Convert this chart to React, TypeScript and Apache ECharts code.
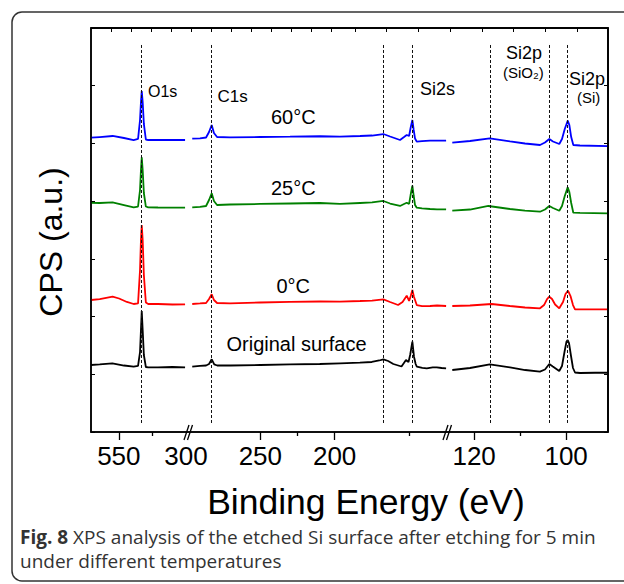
import React, { useEffect, useRef } from "react";
import * as echarts from "echarts";

// ---- axis ranges (eV) of the three broken-axis segments ----
const leftRange = [499.3, 571];
const midRange = [124.4, 300];
const rightRange = [90.9, 125.9];

// ---- tick labels ----
const leftLabels = [550];
const leftMajorTicks = [550];
const leftMinorTicks = [525];
const midLabels = [300, 250, 200];
const midMajorTicks = [250, 200];
const midMinorTicks = [225, 150];
const rightLabels = [120, 100];
const rightMajorTicks = [120, 100];
const rightMinorTicks = [110];

// ---- peak reference lines (eV) ----
const peakLinesLeft = [532.7];
const peakLinesMid = [282.7, 167.2, 147.7];
const peakLinesRight = [116.6, 103.66, 99.66];

// ---- spectra [binding energy eV, CPS a.u. offset] ----
const blackLeft = [[571,1.161],[564.4,1.170],[554.9,1.190],[546.1,1.152],[538.8,1.131],[535.5,1.144],[534.0,1.386],[533.3,1.767],[532.7,2.097],[532.0,1.767],[531.1,1.334],[529.6,1.126],[527.8,1.121],[520.5,1.121],[509.5,1.126],[500,1.121]];
const redLeft = [[571,2.287],[564.4,2.304],[554.7,2.344],[549.8,2.313],[543.9,2.253],[538.8,2.218],[535.5,2.227],[534.0,2.807],[533.3,3.327],[532.7,3.587],[532.0,3.327],[531.1,2.720],[529.6,2.244],[527.8,2.218],[520.5,2.218],[509.5,2.209],[500,2.213]];
const greenLeft = [[571,3.969],[564.4,3.968],[554.7,3.979],[546.1,3.933],[538.8,3.893],[535.5,3.907],[534.0,4.193],[533.3,4.540],[532.7,4.760],[532.0,4.540],[531.1,4.141],[529.6,3.907],[527.8,3.893],[520.5,3.890],[509.5,3.886],[500,3.886]];
const blueLeft = [[571,5.099],[564.4,5.111],[554.7,5.129],[546.1,5.094],[538.8,5.059],[535.5,5.077],[534.0,5.406],[533.3,5.718],[532.7,5.908],[532.0,5.718],[531.1,5.337],[529.6,5.068],[527.8,5.059],[520.5,5.059],[509.5,5.059],[500,5.059]];

const blackMid = [[295.8,1.131],[290.6,1.144],[286.5,1.152],[284.5,1.178],[282.7,1.260],[281.0,1.170],[279,1.152],[270,1.152],[250,1.161],[230,1.170],[210,1.178],[196.3,1.190],[183,1.201],[175,1.213],[170,1.239],[167.2,1.260],[164,1.230],[160.5,1.178],[155,1.135],[152,1.247],[150.3,1.213],[149.2,1.334],[147.7,1.565],[146.6,1.305],[145.5,1.178],[144.7,1.131],[141,1.112],[138,1.104],[134,1.118],[131.3,1.121],[128,1.109],[125,1.104]];
const redMid = [[295.8,2.218],[290.6,2.227],[286.5,2.235],[284.5,2.304],[282.7,2.386],[281.2,2.287],[279.1,2.235],[270.4,2.230],[250.2,2.244],[230,2.253],[209.8,2.261],[196.4,2.258],[182.9,2.270],[174.8,2.278],[167.2,2.299],[162.7,2.253],[157.3,2.200],[154.3,2.253],[151.5,2.362],[149.9,2.270],[148.8,2.356],[147.7,2.460],[146.6,2.339],[144.75,2.200],[141.2,2.180],[135.8,2.183],[131.1,2.192],[125,2.183]];
const greenMid = [[295.8,3.893],[290.6,3.899],[286.5,3.916],[284.5,4.020],[282.7,4.136],[281.2,4.003],[279.1,3.933],[270.4,3.942],[250.2,3.951],[230,3.959],[209.8,3.968],[196.4,3.951],[182.9,3.968],[174.8,3.977],[167.2,4.003],[162.7,3.959],[156,3.916],[153.3,3.951],[151.5,3.973],[149.9,3.951],[148.9,4.106],[147.7,4.268],[146.8,4.089],[145.9,3.933],[144.75,3.886],[141.2,3.873],[135.8,3.864],[131.1,3.859],[125,3.859]];
const blueMid = [[295.8,5.082],[290.6,5.089],[286.5,5.103],[284.5,5.198],[282.7,5.319],[281.2,5.181],[279.1,5.111],[270.4,5.106],[250.2,5.111],[230,5.117],[209.8,5.124],[196.4,5.117],[182.9,5.129],[174.8,5.137],[167.2,5.163],[162.7,5.120],[156,5.059],[153.3,5.111],[151.5,5.146],[149.9,5.129],[148.9,5.267],[147.7,5.406],[146.8,5.233],[145.9,5.085],[144.75,5.030],[141.2,5.039],[135.8,5.047],[131.1,5.047],[125,5.047]];

const blackRight = [[124.75,1.074],[120.9,1.109],[116.6,1.173],[112.2,1.118],[108.9,1.074],[105.7,1.045],[104.6,1.083],[103.66,1.178],[102.9,1.135],[101.5,1.057],[100.9,1.144],[100.36,1.386],[99.92,1.568],[99.66,1.594],[99.38,1.542],[98.94,1.317],[98.51,1.109],[98.07,1.031],[97.0,1.022],[93.7,1.027],[90.9,1.027]];
const redRight = [[124.75,2.183],[120.9,2.192],[116.2,2.218],[112.2,2.183],[108.94,2.157],[105.68,2.143],[104.8,2.200],[104.15,2.304],[103.66,2.344],[103.07,2.304],[102.4,2.209],[101.49,2.143],[100.68,2.253],[100.14,2.391],[99.6,2.448],[99.05,2.356],[98.51,2.200],[98.07,2.126],[97.0,2.123],[90.9,2.126]];
const greenRight = [[124.75,3.834],[120.9,3.855],[116.9,3.916],[112.2,3.864],[108.94,3.834],[105.68,3.817],[104.6,3.855],[103.66,3.916],[102.86,3.881],[101.49,3.834],[100.9,3.916],[100.3,4.089],[99.66,4.240],[99.3,4.158],[98.9,3.968],[98.44,3.800],[97.0,3.795],[90.9,3.789]];
const blueRight = [[124.75,5.013],[120.9,5.042],[116.6,5.089],[112.2,5.034],[108.94,4.999],[105.68,4.973],[104.6,5.016],[103.66,5.077],[102.86,5.034],[101.49,4.990],[100.9,5.077],[100.3,5.250],[99.66,5.394],[99.3,5.319],[98.9,5.111],[98.44,4.973],[97.0,4.964],[90.9,4.955]];

const seriesNames = ["Original surface", "0°C", "25°C", "60°C"];
const seriesColors = ["#000000", "#ff0000", "#008000", "#0000ff"];

const FONT = "'Liberation Sans', Arial, Helvetica, sans-serif";
const CAPTION_FONT = "'Open Sans', sans-serif";
const DASH_BOTTOM = 0.156;
const DASH_TOP = 6.72;

export default function App() {
  const ref = useRef<HTMLDivElement>(null);

  useEffect(() => {
    if (!ref.current) return;
    const chart = echarts.init(ref.current, undefined, { renderer: "svg" });

    const plot = { left: 91, top: 28, width: 517, height: 404 };
    const grids = [
      { left: 91, top: plot.top, width: 95, height: plot.height },
      { left: 186, top: plot.top, width: 261, height: plot.height },
      { left: 447, top: plot.top, width: 161, height: plot.height },
      { left: plot.left, top: plot.top, width: plot.width, height: plot.height },
    ].map((g) => ({ ...g, outerBoundsMode: "none", containLabel: false }));

    const segDefs = [
      { range: leftRange, labels: leftLabels, majors: leftMajorTicks, minors: leftMinorTicks, peaks: peakLinesLeft, data: [blackLeft, redLeft, greenLeft, blueLeft] },
      { range: midRange, labels: midLabels, majors: midMajorTicks, minors: midMinorTicks, peaks: peakLinesMid, data: [blackMid, redMid, greenMid, blueMid] },
      { range: rightRange, labels: rightLabels, majors: rightMajorTicks, minors: rightMinorTicks, peaks: peakLinesRight, data: [blackRight, redRight, greenRight, blueRight] },
    ];

    const xAxes: any[] = [];
    const yAxes: any[] = [];
    const series: any[] = [];

    const frameY = (pos: string) => ({
      show: true, position: pos,
      axisLine: { show: true, onZero: false, lineStyle: { color: "#000", width: 1.5 } },
      axisTick: { show: true, inside: true, length: 4, lineStyle: { color: "#000", width: 1 } },
      axisLabel: { show: false },
    });

    segDefs.forEach((s, gi) => {
      xAxes.push({
        type: "value", gridIndex: gi, min: s.range[0], max: s.range[1], inverse: true, position: "bottom",
        axisLine: { show: false, onZero: false },
        axisTick: { show: true, inside: false, length: 8, customValues: s.majors, lineStyle: { color: "#000", width: 1.3 } },
        axisLabel: { show: true, customValues: s.labels, margin: 11, fontSize: 26, fontFamily: FONT, color: "#000" },
        splitLine: { show: false },
      });
      xAxes.push({
        type: "value", gridIndex: gi, min: s.range[0], max: s.range[1], inverse: true, position: "bottom",
        axisLine: { show: false, onZero: false },
        axisTick: { show: true, inside: false, length: 4, customValues: s.minors, lineStyle: { color: "#000", width: 1.3 } },
        axisLabel: { show: false },
        splitLine: { show: false },
      });
      const yBase: any = { type: "value", gridIndex: gi, min: 0, max: 7, interval: 1, splitLine: { show: false } };
      if (gi === 0) yAxes.push({ ...yBase, ...frameY("left") });
      else if (gi === 2) yAxes.push({ ...yBase, ...frameY("right") });
      else yAxes.push({ ...yBase, show: false });
      s.data.forEach((d, si) => {
        const ser: any = {
          type: "line", name: seriesNames[si], xAxisIndex: gi * 2, yAxisIndex: gi, data: d,
          symbol: "none", showSymbol: false, silent: true,
          lineStyle: { color: seriesColors[si], width: 1.8 }, itemStyle: { color: seriesColors[si] },
        };
        if (si === 0) {
          ser.markLine = {
            silent: true, symbol: ["none", "none"], label: { show: false }, animation: false,
            lineStyle: { type: [3, 2], color: "#111", width: 1 },
            data: s.peaks.map((e) => [{ coord: [e, DASH_BOTTOM] }, { coord: [e, DASH_TOP] }]),
          };
        }
        series.push(ser);
      });
    });

    // frame grid (grid 3): bottom line + top line with inward ticks
    const topTicks: number[] = [];
    for (let k = 0; k < 12; k++) topTicks.push(20.7 + 20 * k);
    for (let k = 0; k < 8; k++) topTicks.push(264 + 31.7 * k);
    xAxes.push({
      type: "value", gridIndex: 3, min: 0, max: plot.width, position: "bottom",
      axisLine: { show: true, onZero: false, lineStyle: { color: "#000", width: 1.5 } },
      axisTick: { show: false }, axisLabel: { show: false }, splitLine: { show: false },
    });
    xAxes.push({
      type: "value", gridIndex: 3, min: 0, max: plot.width, position: "top",
      axisLine: { show: true, onZero: false, lineStyle: { color: "#000", width: 1.5 } },
      axisTick: { show: true, inside: true, length: 4, customValues: topTicks, lineStyle: { color: "#000", width: 1 } },
      axisLabel: { show: false }, splitLine: { show: false },
    });
    yAxes.push({ type: "value", gridIndex: 3, min: 0, max: 7, show: false, splitLine: { show: false } });

    // frame outline along the top and right edges, drawn through the frame grid's scales
    series.push({
      type: "line", name: "frame", xAxisIndex: 7, yAxisIndex: 3, clip: false, silent: true,
      symbol: "none", showSymbol: false, z: 10,
      data: [[0, 7], [plot.width, 7], [plot.width, 0]],
      lineStyle: { color: "#000", width: 1.5 },
    });

    const txt = (text: string, x: number, y: number, size: number) => ({
      type: "text", x, y, silent: true,
      style: { text, fontSize: size, fontFamily: FONT, fill: "#000", align: "left", verticalAlign: "middle" },
    });
    const brk = (x: number) => [
      { type: "line", silent: true, shape: { x1: x - 5, y1: 440, x2: x, y2: 425 }, style: { stroke: "#000", lineWidth: 1.3 } },
      { type: "line", silent: true, shape: { x1: x - 1.5, y1: 440, x2: x + 3.5, y2: 425 }, style: { stroke: "#000", lineWidth: 1.3 } },
    ];

    const graphic: any[] = [
      { type: "rect", silent: true, shape: { x: 12, y: 12, width: 660, height: 569, r: 10 }, style: { fill: "none", stroke: "#333", lineWidth: 1.5 } },
      { type: "rect", silent: true, z: 100, shape: { x: plot.left, y: plot.top, width: plot.width, height: plot.height }, style: { fill: "none", stroke: "#000", lineWidth: 1.5 } },
      ...brk(189),
      ...brk(448),
      txt("O1s", 148, 91, 16),
      txt("C1s", 217.5, 96.5, 17),
      txt("60°C", 271, 117, 20),
      txt("25°C", 271, 188, 20),
      txt("0°C", 276.5, 285.5, 20),
      txt("Original surface", 226.5, 344, 20),
      txt("Si2s", 420, 88.5, 18),
      txt("Si2p", 506, 52.5, 18),
      txt("(SiO₂)", 503, 72.5, 15),
      txt("Si2p", 569, 78.5, 18),
      txt("(Si)", 577, 97.5, 15),
      { type: "text", x: 51, y: 242, rotation: Math.PI / 2, silent: true,
        style: { text: "CPS (a.u.)", fontSize: 32, fontFamily: FONT, fill: "#000", align: "center", verticalAlign: "middle" } },
      { type: "text", x: 366, y: 502, silent: true,
        style: { text: "Binding Energy (eV)", fontSize: 35.5, fontFamily: FONT, fill: "#000", align: "center", verticalAlign: "middle" } },
      { type: "text", x: 20, y: 537, silent: true,
        style: {
          text: "{b|Fig. 8} XPS analysis of the etched Si surface after etching for 5 min",
          fontSize: 19, fontFamily: CAPTION_FONT, fill: "#333", align: "left", verticalAlign: "middle",
          rich: { b: { fontWeight: "bold", fontSize: 19, fontFamily: CAPTION_FONT, fill: "#333" } },
        } },
      { type: "text", x: 20, y: 561, silent: true,
        style: { text: "under different temperatures", fontSize: 19, fontFamily: CAPTION_FONT, fill: "#333", align: "left", verticalAlign: "middle" } },
    ];

    chart.setOption({
      animation: false,
      backgroundColor: "#ffffff",
      grid: grids,
      xAxis: xAxes,
      yAxis: yAxes,
      series,
      graphic,
    });

    return () => chart.dispose();
  }, []);

  return <div ref={ref} style={{ position: "fixed", left: 0, top: 0, width: 624, height: 584 }} />;
}
